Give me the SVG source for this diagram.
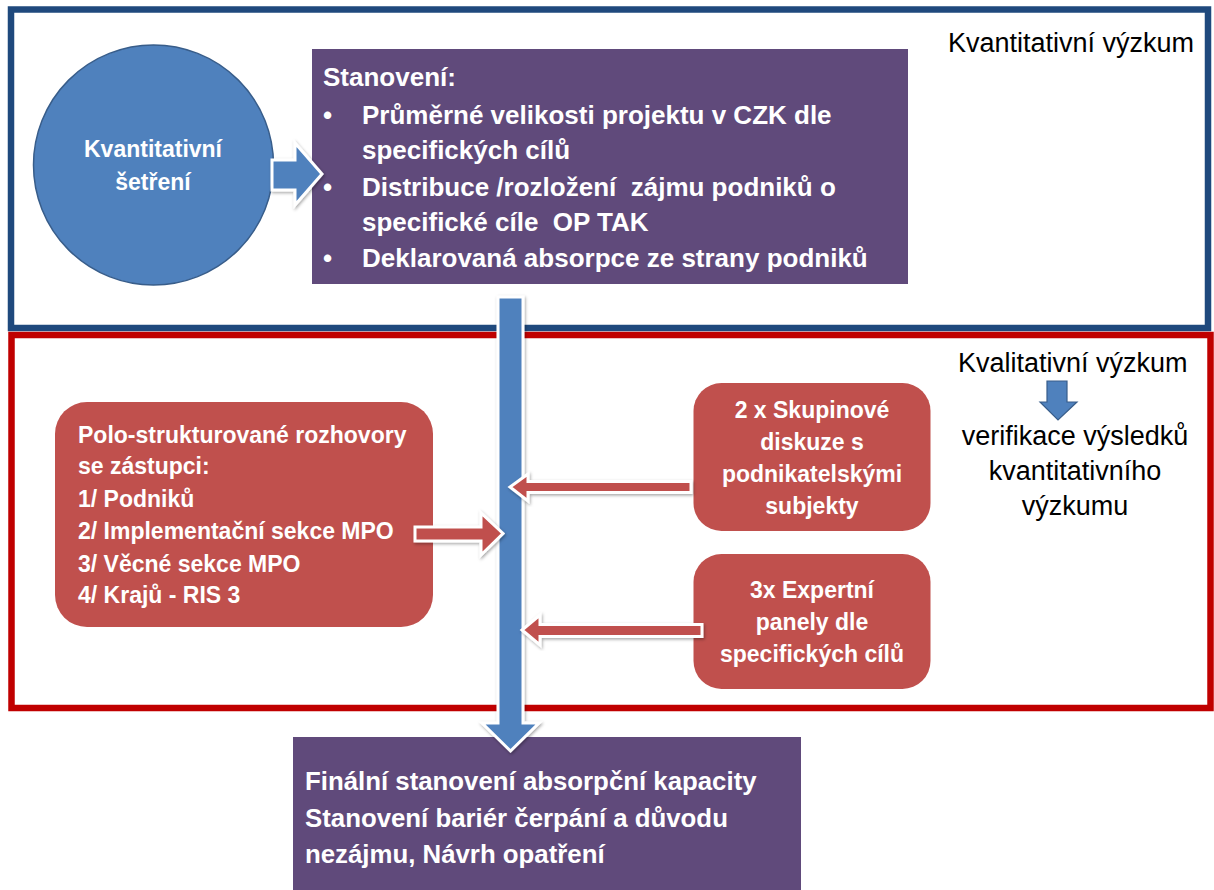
<svg xmlns="http://www.w3.org/2000/svg" width="1214" height="890" viewBox="0 0 1214 890">
<defs>
<filter id="sh" x="-20%" y="-20%" width="140%" height="140%">
<feDropShadow dx="1" dy="1.5" stdDeviation="1.5" flood-color="#000" flood-opacity="0.35"/>
</filter>
<style>
.t{font-family:"Liberation Sans",Arial,sans-serif;white-space:pre;}
.wb{fill:#fff;font-weight:bold;}
.blk{fill:#000;font-size:27px;}
.purple{fill:#604A7B;}
.redbox{fill:#C0504D;}
.blue-arrow{fill:#4F81BD;stroke:#fff;stroke-width:3;stroke-linejoin:miter;filter:url(#sh);}
.red-arrow{fill:#C0504D;stroke:#fff;stroke-width:3;stroke-linejoin:miter;filter:url(#sh);}
</style>
</defs>
<rect width="1214" height="890" fill="#fff"/>

<g id="frame-quant">
<rect x="11" y="9.5" width="1197" height="318.5" fill="none" stroke="#1F497D" stroke-width="6.5"/>
<text class="t blk" x="948" y="52">Kvantitativní výzkum</text>
</g>
<g id="frame-qual">
<rect x="11.5" y="335" width="1199" height="373" fill="none" stroke="#C00000" stroke-width="6.5"/>
<text class="t blk" x="958" y="372">Kvalitativní výzkum</text>
</g>

<g id="circle-node">
<circle cx="153.5" cy="165" r="120" fill="#4F81BD" stroke="#385D8A" stroke-width="1.5"/>
<text class="t wb" font-size="23" text-anchor="middle"><tspan x="153" y="157">Kvantitativní</tspan><tspan x="153" y="190">šetření</tspan></text>
</g>

<g id="stanoveni">
<rect class="purple" x="312" y="49" width="596" height="235"/>
<text class="t wb" font-size="26" xml:space="preserve"><tspan x="323" y="86">Stanovení:</tspan><tspan x="323" y="124">•</tspan><tspan x="362" y="124">Průměrné velikosti projektu v CZK dle</tspan><tspan x="362" y="159">specifických cílů</tspan><tspan x="323" y="196">•</tspan><tspan x="362" y="196">Distribuce /rozložení  zájmu podniků o</tspan><tspan x="362" y="231">specifické cíle  OP TAK</tspan><tspan x="323" y="267">•</tspan><tspan x="362" y="267">Deklarovaná absorpce ze strany podniků</tspan></text>
</g>

<g id="final">
<rect class="purple" x="293" y="737" width="508" height="160"/>
<text class="t wb" font-size="25.8"><tspan x="305" y="790">Finální stanovení absorpční kapacity</tspan><tspan x="305" y="827">Stanovení bariér čerpání a důvodu</tspan><tspan x="305" y="863">nezájmu, Návrh opatření</tspan></text>
</g>

<g id="rozhovory">
<rect class="redbox" x="55" y="402" width="378" height="225" rx="32"/>
<text class="t wb" font-size="23"><tspan x="78" y="443">Polo-strukturované rozhovory</tspan><tspan x="78" y="474">se zástupci:</tspan><tspan x="78" y="507">1/ Podniků</tspan><tspan x="78" y="539">2/ Implementační sekce MPO</tspan><tspan x="78" y="572">3/ Věcné sekce MPO</tspan><tspan x="78" y="603">4/ Krajů - RIS 3</tspan></text>
</g>

<g id="skupinove">
<rect class="redbox" x="693.5" y="383" width="237" height="148" rx="28"/>
<text class="t wb" font-size="23" text-anchor="middle"><tspan x="812" y="418">2 x Skupinové</tspan><tspan x="812" y="450">diskuze s</tspan><tspan x="812" y="482">podnikatelskými</tspan><tspan x="812" y="514">subjekty</tspan></text>
</g>

<g id="expertni">
<rect class="redbox" x="693.5" y="554" width="237" height="135" rx="28"/>
<text class="t wb" font-size="23" text-anchor="middle"><tspan x="812" y="598">3x Expertní</tspan><tspan x="812" y="630">panely dle</tspan><tspan x="812" y="662">specifických cílů</tspan></text>
</g>

<g id="verifikace">
<text class="t blk" text-anchor="middle"><tspan x="1075" y="445">verifikace výsledků</tspan><tspan x="1075" y="480">kvantitativního</tspan><tspan x="1075" y="515">výzkumu</tspan></text>
</g>

<g id="connectors">
<polygon class="blue-arrow" points="272,160 295,160 295,143 322,174 295,205 295,190 272,190"/>
<polygon class="blue-arrow" points="498,297 523,297 523,723 539,723 510.5,751 482,723 498,723"/>
<polygon class="red-arrow" points="415,527 481,527 481,513 503,533.5 481,555 481,541 415,541"/>
<polygon class="red-arrow" points="691,481.5 528,481.5 528,474 510,487 528,501 528,492.5 691,492.5"/>
<polygon class="red-arrow" points="702,624.5 540,624.5 540,615 522,630 540,645 540,636.5 702,636.5"/>
<polygon points="1047,381 1067,381 1067,402 1077,402 1058,420 1040,402 1047,402" fill="#4F81BD" stroke="#385D8A" stroke-width="1.2"/>
</g>
</svg>
